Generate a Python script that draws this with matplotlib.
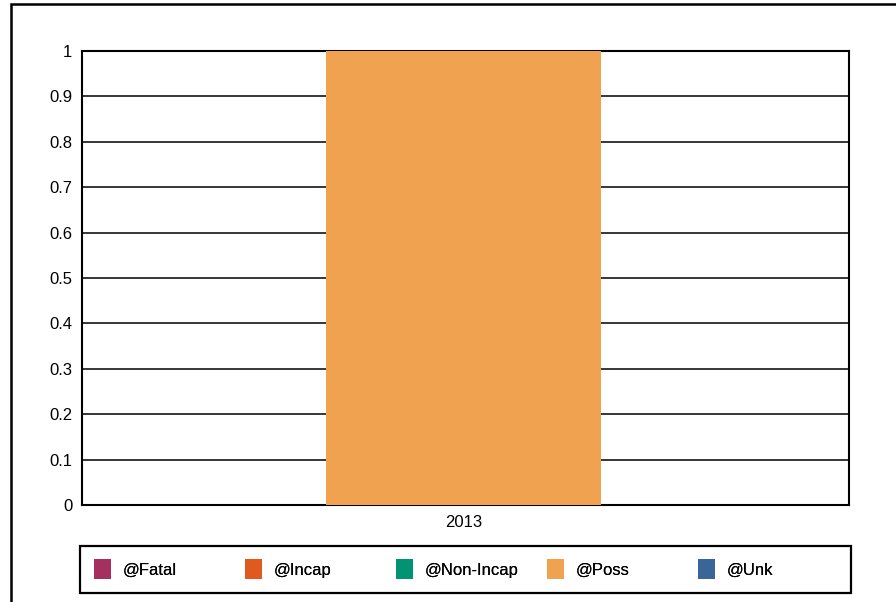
import numpy as np
import matplotlib
matplotlib.use("Agg")
import matplotlib.pyplot as plt
import matplotlib.patches as patches

plt.rcParams['font.family'] = ['Liberation Sans', 'DejaVu Sans']
plt.rcParams['font.size'] = 12

# Data
years = ['2013']
series = ['@Fatal', '@Incap', '@Non-Incap', '@Poss', '@Unk']
fatal = [0.0]
incap = [0.0]
non_incap = [0.0]
poss = [1.0]
unk = [0.0]
colors = ['#A3305F', '#E05A20', '#009473', '#F0A251', '#3A6599']

values = [fatal, incap, non_incap, poss, unk]

fig = plt.figure(figsize=(8.96, 6.02), dpi=100)
ax = fig.add_axes([82 / 896, 1 - 505 / 602, 767 / 896, 454 / 602])

# stacked bars
x = np.arange(len(years))
bottom = np.zeros(len(years))
handles = []
for name, vals, col in zip(series, values, colors):
    b = ax.bar(x, vals, width=0.3585, bottom=bottom, color=col, label=name, zorder=3)
    handles.append(b)
    bottom += np.array(vals)

ax.set_xlim(-0.4974, 0.5026)
ax.set_ylim(0, 1)
ax.set_yticks(np.arange(0, 1.01, 0.1))
ax.set_yticklabels(['0', '0.1', '0.2', '0.3', '0.4', '0.5', '0.6', '0.7', '0.8', '0.9', '1'])
ax.set_xticks(x)
ax.set_xticklabels(years)
ax.tick_params(axis='both', length=0, pad=7, colors='black')
ax.yaxis.grid(True, color='black', linewidth=1.1, zorder=1)
ax.set_axisbelow(True)
for sp in ax.spines.values():
    sp.set_linewidth(1.5)
    sp.set_color('black')

# legend frame across the bottom
fig.add_artist(patches.Rectangle((80 / 896, 1 - 593 / 602), 771 / 896, 47 / 602,
                                 transform=fig.transFigure, fill=False,
                                 edgecolor='black', linewidth=1.6))
# one entry per column, evenly spaced
for i, h in enumerate(handles):
    lg = fig.legend([h], [series[i]], loc='center left',
                    bbox_to_anchor=((94 + 151 * i) / 896, 1 - 569 / 602),
                    frameon=False, handlelength=1.0, handleheight=1.5,
                    handletextpad=0.7, borderpad=0, borderaxespad=0)
    fig.add_artist(lg)

# outer chart border
fig.add_artist(patches.Rectangle((11 / 896, -0.1), 1.2, 1.1 - 4 / 602,
                                 transform=fig.transFigure, fill=False,
                                 edgecolor='black', linewidth=1.8))

fig.savefig('out.png', dpi=100)
